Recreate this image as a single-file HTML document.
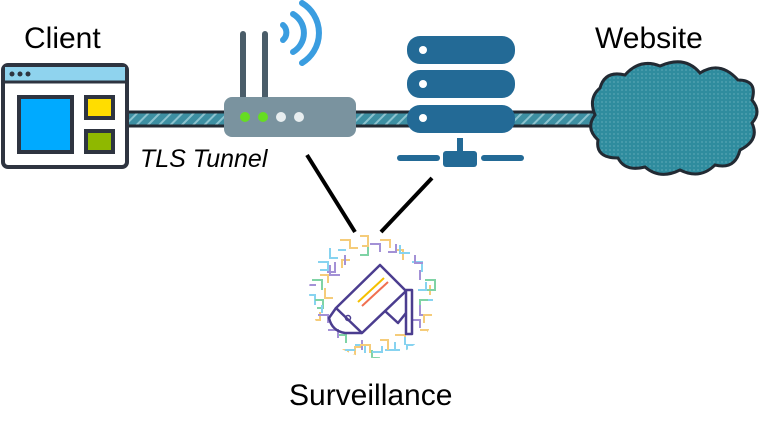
<!DOCTYPE html>
<html><head><meta charset="utf-8"><style>
html,body{margin:0;padding:0;background:#fff;}
svg{display:block}
text{font-family:"Liberation Sans","DejaVu Sans",sans-serif;}
</style></head><body>
<svg width="760" height="435" viewBox="0 0 760 435" xmlns="http://www.w3.org/2000/svg">
<defs>
<pattern id="hatch" width="8" height="8" patternUnits="userSpaceOnUse" patternTransform="rotate(45)">
<rect width="8" height="8" fill="#3d8fa2"/><rect width="2" height="8" fill="#8cc3cf"/>
</pattern>
<pattern id="dots" width="4" height="4" patternUnits="userSpaceOnUse">
<rect width="4" height="4" fill="#2f8c9e"/><circle cx="2" cy="2" r="0.6" fill="#7fbcc8"/>
</pattern>
<clipPath id="circ"><circle cx="375" cy="292" r="66"/></clipPath>
</defs>
<!-- tunnel -->
<rect x="120" y="112" width="480" height="14" fill="url(#hatch)" stroke="#222a33" stroke-width="3"/>
<!-- client -->
<text x="24" y="48" font-size="30" fill="#000">Client</text>
<rect x="3" y="65" width="124" height="102" rx="5" fill="#fff" stroke="#2e3440" stroke-width="4"/>
<rect x="5" y="67" width="120" height="15" fill="#8fd3ee"/>
<line x1="5" y1="82" x2="125" y2="82" stroke="#2e3440" stroke-width="3"/>
<circle cx="12" cy="74" r="2.5" fill="#2e3440"/><circle cx="20" cy="74" r="2.5" fill="#2e3440"/><circle cx="28" cy="74" r="2.5" fill="#2e3440"/>
<rect x="19" y="97" width="53" height="55" fill="#00aaff" stroke="#2e3440" stroke-width="4"/>
<rect x="86" y="97" width="27" height="21" fill="#ffdd00" stroke="#2e3440" stroke-width="4"/>
<rect x="86" y="131" width="27" height="21" fill="#8fb800" stroke="#2e3440" stroke-width="4"/>
<!-- router -->
<line x1="243" y1="34" x2="243" y2="100" stroke="#4a5d69" stroke-width="6" stroke-linecap="round"/>
<line x1="265" y1="34" x2="265" y2="100" stroke="#4a5d69" stroke-width="6" stroke-linecap="round"/>
<g fill="none" stroke="#3a9de0" stroke-width="6" stroke-linecap="round">
<path d="M283 25 A10 10 0 0 1 283 40"/>
<path d="M293 14 A22 22 0 0 1 293 52"/>
<path d="M302 3 A35 35 0 0 1 302 63"/>
</g>
<rect x="224" y="97" width="132" height="40" rx="8" fill="#7a939f"/>
<circle cx="245" cy="117" r="5" fill="#66dd22"/><circle cx="263" cy="117" r="5" fill="#66dd22"/>
<circle cx="281" cy="117" r="5" fill="#e8eef0"/><circle cx="299" cy="117" r="5" fill="#e8eef0"/>
<text x="140" y="167" font-size="25" font-style="italic" fill="#000">TLS Tunnel</text>
<!-- server -->
<rect x="407" y="36" width="108" height="28" rx="13" fill="#236a96"/>
<rect x="407" y="70" width="108" height="28" rx="13" fill="#236a96"/>
<rect x="407" y="105" width="108" height="28" rx="13" fill="#236a96"/>
<circle cx="423" cy="50" r="4" fill="#fff"/><circle cx="423" cy="84" r="4" fill="#fff"/><circle cx="423" cy="118" r="4" fill="#fff"/>
<rect x="457" y="138" width="6" height="14" fill="#236a96"/>
<rect x="443" y="151" width="34" height="16" rx="3" fill="#236a96"/>
<line x1="400" y1="158" x2="437" y2="158" stroke="#236a96" stroke-width="6" stroke-linecap="round"/>
<line x1="484" y1="158" x2="521" y2="158" stroke="#236a96" stroke-width="6" stroke-linecap="round"/>
<!-- cloud -->
<text x="595" y="48" font-size="30" fill="#000">Website</text>
<path d="M600 88 Q605 70 625 75 Q640 58 660 66 Q685 55 700 73 Q720 60 738 80 Q758 80 752 100 Q762 112 752 123 Q760 140 740 150 Q735 170 715 165 Q700 180 680 170 Q660 180 645 167 Q625 172 618 158 Q595 158 598 140 Q585 128 595 115 Q588 98 600 88 Z" fill="url(#dots)" stroke="#222a33" stroke-width="3"/>
<!-- lines -->
<line x1="307" y1="155" x2="355" y2="232" stroke="#000" stroke-width="4"/>
<line x1="432" y1="178" x2="381" y2="232" stroke="#000" stroke-width="4"/>
<!-- surveillance maze -->
<g fill="none" stroke-width="2" clip-path="url(#circ)">
<path d="M340 240 h10 v8 h8 M360 236 h8 v10 h-6 M380 240 h10 v8 M395 250 h8 v10 M320 275 h8 v8 M310 320 h10 v-8 M345 355 h10 v-8 h8 M420 330 h8 v8 M430 285 v10" stroke="#f5cc7a"/>
<path d="M318 262 h10 v8 h-8 M330 248 v10 h8 M400 245 v8 h10 M412 262 h10 v10 M305 295 h10 v10 M355 345 h10 v8 M385 350 h10 v-8 M415 345 h-8 v8 M425 300 h8" stroke="#87d3f0"/>
<path d="M312 280 h10 v10 M315 300 h8 v8 h-6 M425 280 h10 v10 h-8 M428 300 h-8 v10 M360 255 h8 v-8 M338 335 h8 v8 M400 355 h8 v-6 M372 350 v8 h8" stroke="#7fd3a5"/>
<path d="M318 315 h10 v8 M328 330 h10 v8 M410 320 h10 v8 M420 305 v10 h8 M370 244 h10 v8 M388 252 h8 v-8 M335 262 v10 h-8 M415 255 v8 h8 M362 340 v10" stroke="#a391d6"/>
<path d="M340 350 h8 v8 h8 M360 345 h10 v8 M380 340 h8 v10 M395 335 h10 v8 M350 260 h-8 v8 M325 288 v10 h8 M432 315 h-8 v8" stroke="#f5cc7a"/>
<path d="M345 350 h10 M372 352 h10 v-6 M392 350 h8 M405 345 v-8 M338 250 h8 M322 305 v8 M418 290 h8 v-8" stroke="#87d3f0"/>
<path d="M330 265 v10 h10 M345 255 v10 M420 270 v10 M308 285 h8 M390 360 h10 M352 365 h10" stroke="#a391d6"/>
</g>
<g fill="none" stroke="#4b3d8f" stroke-width="2.5" stroke-linejoin="round">
<path d="M336 308 L380 265 L406 291 L362 333 Z" fill="#fff"/>
<path d="M336 308 L329 318 Q332 331 345 333 L362 333"/>
<path d="M385 311 L398 323 L406 313"/>
<rect x="406" y="290" width="6" height="44" fill="#fff"/>
</g>
<circle cx="348" cy="318" r="2.5" fill="none" stroke="#4b3d8f" stroke-width="1.5"/>
<line x1="358" y1="302" x2="384" y2="278" stroke="#f5c000" stroke-width="2"/>
<line x1="362" y1="306" x2="388" y2="282" stroke="#f07050" stroke-width="2"/>
<text x="289" y="405" font-size="30" fill="#000">Surveillance</text>
</svg>
</body></html>
